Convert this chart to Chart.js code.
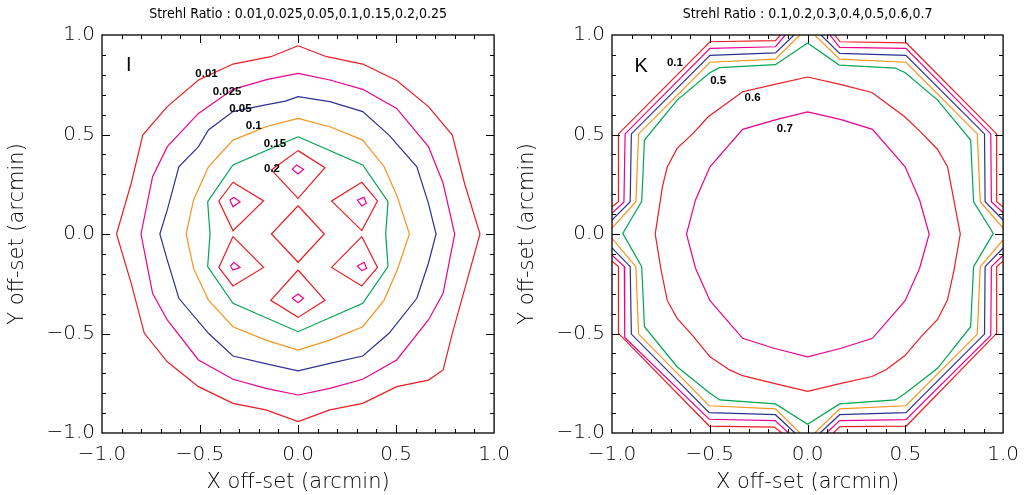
<!DOCTYPE html>
<html><head><meta charset="utf-8">
<script src="https://cdn.jsdelivr.net/npm/chart.js@4.4.1/dist/chart.umd.min.js"></script>
<style>
html,body{margin:0;padding:0;background:#fff;width:1029px;height:495px;overflow:hidden}
canvas{position:absolute;top:0}
#cl{left:0} #cr{left:510px}
</style></head><body>
<canvas id="cl" width="520" height="495"></canvas>
<canvas id="cr" width="519" height="495"></canvas>
<script>
// ---------- shared ----------
const tickValues = [-1, -0.5, 0, 0.5, 1];
const RED = '#ed1c24', MAGENTA = '#ec008c', BLUE = '#2e3192', ORANGE = '#f7941d', GREEN = '#00a651';

// ---------- Panel I (Strehl ratio contours) ----------
const I_title = 'Strehl Ratio : 0.01,0.025,0.05,0.1,0.15,0.2,0.25';
const I_band = 'I';
const I_c001 = [[0,0.946],[0.146,0.891],[0.330,0.854],[0.503,0.771],[0.665,0.640],[0.787,0.497],[0.849,0.255],[0.928,0],[0.858,-0.248],[0.787,-0.499],[0.740,-0.683],[0.665,-0.734],[0.503,-0.767],[0.330,-0.851],[0.162,-0.884],[0,-0.943],[-0.164,-0.884],[-0.332,-0.851],[-0.508,-0.767],[-0.667,-0.642],[-0.784,-0.499],[-0.851,-0.248],[-0.926,0],[-0.851,0.255],[-0.792,0.497],[-0.667,0.640],[-0.508,0.774],[-0.332,0.854],[-0.139,0.891],[0,0.946]];
const I_c0025 = [[0,0.807],[0.162,0.774],[0.330,0.727],[0.503,0.631],[0.665,0.439],[0.740,0.255],[0.799,0],[0.740,-0.298],[0.665,-0.432],[0.503,-0.633],[0.330,-0.730],[0.162,-0.776],[0,-0.809],[-0.164,-0.776],[-0.332,-0.730],[-0.508,-0.633],[-0.667,-0.432],[-0.742,-0.298],[-0.801,0],[-0.742,0.288],[-0.667,0.439],[-0.508,0.606],[-0.332,0.727],[-0.156,0.777],[0,0.807]];
const I_c005 = [[0,0.690],[0.162,0.665],[0.330,0.615],[0.464,0.497],[0.606,0.338],[0.665,0.154],[0.704,0],[0.665,-0.147],[0.606,-0.323],[0.464,-0.499],[0.330,-0.613],[0.162,-0.650],[0,-0.688],[-0.172,-0.650],[-0.332,-0.613],[-0.457,-0.499],[-0.608,-0.323],[-0.667,-0.131],[-0.705,0],[-0.667,0.121],[-0.608,0.338],[-0.508,0.439],[-0.457,0.523],[-0.332,0.615],[-0.172,0.648],[-0.064,0.668],[0,0.690]];
const I_c01 = [[0,0.581],[0.162,0.539],[0.330,0.472],[0.439,0.338],[0.506,0.188],[0.568,0],[0.506,-0.181],[0.439,-0.332],[0.330,-0.466],[0.162,-0.533],[0,-0.583],[-0.164,-0.533],[-0.332,-0.466],[-0.457,-0.332],[-0.533,-0.173],[-0.571,0],[-0.533,0.171],[-0.457,0.338],[-0.332,0.472],[-0.164,0.539],[0,0.581]];
const I_c015 = [[0,0.489],[0.330,0.347],[0.459,0.162],[0.447,0],[0.459,-0.164],[0.330,-0.348],[0,-0.491],[-0.332,-0.348],[-0.461,-0.164],[-0.449,0],[-0.461,0.162],[-0.332,0.347],[0,0.489]];
const I_c02_top = [[0,0.419],[0.137,0.333],[0,0.179],[-0.136,0.322],[0,0.419]];
const I_c02_mid = [[0,0.142],[0.134,0],[0,-0.142],[-0.136,0],[0,0.142]];
const I_c02_bot = [[0,-0.181],[0.137,-0.333],[0,-0.419],[-0.139,-0.333],[0,-0.181]];
const I_c02_ul = [[-0.332,0.260],[-0.176,0.166],[-0.332,0.017],[-0.404,0.166],[-0.332,0.260]];
const I_c02_ur = [[0.325,0.260],[0.405,0.166],[0.325,0.017],[0.171,0.166],[0.325,0.260]];
const I_c02_ll = [[-0.332,-0.013],[-0.176,-0.168],[-0.332,-0.261],[-0.404,-0.168],[-0.332,-0.013]];
const I_c02_lr = [[0.325,-0.013],[0.405,-0.168],[0.325,-0.261],[0.171,-0.168],[0.325,-0.013]];
const I_c025_top = [[-0.030,0.325],[-0.008,0.347],[0.028,0.325],[0,0.302],[-0.030,0.325]];
const I_c025_ul = [[-0.348,0.171],[-0.328,0.184],[-0.296,0.162],[-0.332,0.137],[-0.348,0.171]];
const I_c025_ur = [[0.302,0.171],[0.337,0.184],[0.348,0.154],[0.325,0.141],[0.302,0.171]];
const I_c025_ll = [[-0.345,-0.161],[-0.327,-0.142],[-0.296,-0.168],[-0.332,-0.181],[-0.345,-0.161]];
const I_c025_lr = [[0.302,-0.161],[0.337,-0.142],[0.350,-0.173],[0.325,-0.184],[0.302,-0.161]];
const I_c025_bot = [[-0.030,-0.323],[0,-0.302],[0.028,-0.323],[0,-0.345],[-0.030,-0.323]];
const I_labels = ['0.01','0.025','0.05','0.1','0.15','0.2'];
const I_labelAt = [[-0.467,0.804],[-0.362,0.714],[-0.294,0.628],[-0.226,0.543],[-0.118,0.452],[-0.133,0.327]];

// ---------- Panel K ----------
const K_title = 'Strehl Ratio : 0.1,0.2,0.3,0.4,0.5,0.6,0.7';
const K_band = 'K';
const K_c01_tl = [[-0.139,1.0],[-0.164,0.972],[-0.499,0.966],[-0.967,0.503],[-0.967,0.162],[-1.0,0.137]];
const K_c01_tr = [[0.139,1.0],[0.166,0.966],[0.505,0.960],[0.967,0.503],[0.967,0.162],[1.0,0.137]];
const K_c01_br = [[1.0,-0.137],[0.967,-0.164],[0.967,-0.499],[0.505,-0.965],[0.166,-0.968],[0.131,-1.0]];
const K_c01_bl = [[-1.0,-0.137],[-0.967,-0.164],[-0.967,-0.499],[-0.503,-0.965],[-0.170,-0.970],[-0.131,-1.0]];
const K_c02_tl = [[-0.114,1.0],[-0.164,0.941],[-0.499,0.933],[-0.933,0.503],[-0.939,0.160],[-1.0,0.105]];
const K_c02_tr = [[0.114,1.0],[0.164,0.938],[0.503,0.933],[0.937,0.503],[0.940,0.162],[1.0,0.107]];
const K_c02_br = [[1.0,-0.107],[0.940,-0.164],[0.937,-0.510],[0.503,-0.933],[0.164,-0.938],[0.097,-1.0]];
const K_c02_bl = [[-1.0,-0.107],[-0.937,-0.164],[-0.935,-0.520],[-0.503,-0.931],[-0.166,-0.938],[-0.097,-1.0]];
const K_c03_tl = [[-0.069,1.0],[-0.164,0.910],[-0.499,0.898],[-0.901,0.503],[-0.907,0.162],[-1.0,0.070]];
const K_c03_tr = [[0.069,1.0],[0.164,0.908],[0.503,0.898],[0.905,0.503],[0.908,0.162],[1.0,0.070]];
const K_c03_br = [[1.0,-0.070],[0.908,-0.164],[0.905,-0.503],[0.503,-0.898],[0.164,-0.908],[0.064,-1.0]];
const K_c03_bl = [[-1.0,-0.070],[-0.907,-0.164],[-0.901,-0.503],[-0.503,-0.898],[-0.164,-0.908],[-0.064,-1.0]];
const K_c04_tl = [[-0.039,1.0],[-0.164,0.879],[-0.499,0.863],[-0.864,0.503],[-0.878,0.162],[-1.0,0.030]];
const K_c04_tr = [[0.037,1.0],[0.164,0.879],[0.503,0.863],[0.868,0.503],[0.883,0.162],[1.0,0.030]];
const K_c04_br = [[1.0,-0.030],[0.883,-0.164],[0.868,-0.503],[0.503,-0.863],[0.164,-0.879],[0.037,-1.0]];
const K_c04_bl = [[-1.0,-0.022],[-0.878,-0.164],[-0.864,-0.503],[-0.503,-0.863],[-0.164,-0.879],[-0.039,-1.0]];
const K_c05 = [[0,0.960],[0.162,0.849],[0.449,0.834],[0.500,0.810],[0.665,0.673],[0.834,0.472],[0.849,0.162],[0.950,0.003],[0.849,-0.164],[0.834,-0.466],[0.665,-0.675],[0.500,-0.800],[0.449,-0.834],[0.164,-0.854],[0,-0.956],[-0.164,-0.854],[-0.449,-0.834],[-0.499,-0.800],[-0.667,-0.667],[-0.834,-0.466],[-0.848,-0.164],[-0.945,0.003],[-0.848,0.164],[-0.834,0.472],[-0.667,0.673],[-0.500,0.810],[-0.450,0.836],[-0.164,0.851],[0,0.960]];
const K_c06 = [[0,0.789],[0.167,0.752],[0.329,0.711],[0.497,0.589],[0.583,0.508],[0.664,0.426],[0.716,0.338],[0.745,0.187],[0.781,0],[0.749,-0.181],[0.716,-0.331],[0.664,-0.431],[0.583,-0.513],[0.497,-0.612],[0.399,-0.683],[0.329,-0.716],[0.172,-0.751],[0,-0.791],[-0.172,-0.751],[-0.332,-0.712],[-0.399,-0.683],[-0.499,-0.617],[-0.583,-0.516],[-0.667,-0.424],[-0.717,-0.335],[-0.749,-0.181],[-0.779,0],[-0.742,0.238],[-0.717,0.338],[-0.667,0.430],[-0.583,0.508],[-0.508,0.589],[-0.332,0.715],[-0.167,0.752],[0,0.789]];
const K_c07 = [[0,0.614],[0.167,0.576],[0.332,0.526],[0.499,0.338],[0.573,0.171],[0.622,0],[0.573,-0.172],[0.499,-0.335],[0.332,-0.524],[0.172,-0.574],[0,-0.617],[-0.172,-0.574],[-0.332,-0.524],[-0.499,-0.335],[-0.573,-0.172],[-0.619,0],[-0.573,0.171],[-0.499,0.338],[-0.332,0.526],[-0.156,0.576],[0,0.614]];
const K_labels = ['0.1','0.5','0.6','0.7'];
const K_labelAt = [[-0.678,0.859],[-0.457,0.769],[-0.281,0.683],[-0.116,0.528]];

// ---------- helpers ----------
function ds(pts, color){
  return {data: pts.map(p => ({x: p[0], y: p[1]})), borderColor: color, backgroundColor: color,
    borderWidth: 1.2, showLine: true, pointRadius: 0, pointHoverRadius: 0, fill: false, tension: 0};
}
const fmt = v => (v < 0 ? '\u2212' : '') + Math.abs(v).toFixed(1);
const TICK_FONT = {family: "'DejaVu Sans', sans-serif", size: 20, weight: '300'};
const AXT_FONT = {family: "'DejaVu Sans', sans-serif", size: 21, weight: '300'};

const frameTicks = {
  id: 'frameTicks',
  afterDatasetsDraw(chart){
    const {ctx, chartArea: a, scales: {x, y}} = chart;
    ctx.save();
    ctx.strokeStyle = '#000';
    ctx.lineWidth = 1.3;
    ctx.strokeRect(a.left, a.top, a.right - a.left, a.bottom - a.top);
    ctx.lineWidth = 1;
    ctx.beginPath();
    for (let i = -9; i <= 9; i++){
      const v = i / 10, L = (i % 5 === 0) ? 8 : 4;
      const px = Math.round(x.getPixelForValue(v)) + 0.5;
      const py = Math.round(y.getPixelForValue(v)) + 0.5;
      ctx.moveTo(px, a.bottom); ctx.lineTo(px, a.bottom - L);
      ctx.moveTo(px, a.top); ctx.lineTo(px, a.top + L);
      ctx.moveTo(a.left, py); ctx.lineTo(a.left + L, py);
      ctx.moveTo(a.right, py); ctx.lineTo(a.right - L, py);
    }
    ctx.stroke();
    ctx.restore();
  }
};

const notes = {
  id: 'notes',
  afterDatasetsDraw(chart, args, opts){
    const {ctx, scales: {x, y}} = chart;
    ctx.save();
    ctx.fillStyle = '#000';
    ctx.textAlign = 'center';
    ctx.textBaseline = 'middle';
    ctx.font = "20px 'Liberation Sans', Arial, sans-serif";
    ctx.fillText(opts.band, x.getPixelForValue(opts.bandAt[0]), y.getPixelForValue(opts.bandAt[1]));
    ctx.font = "bold 11.5px 'Liberation Sans', Arial, sans-serif";
    opts.labels.forEach((t, i) => {
      ctx.fillText(t, x.getPixelForValue(opts.at[i][0]), y.getPixelForValue(opts.at[i][1]));
    });
    ctx.restore();
  }
};

function makeChart(id, title, datasets, band, bandAt, labels, at, padRight){
  return new Chart(document.getElementById(id), {
    type: 'scatter',
    data: {datasets},
    plugins: [frameTicks, notes],
    options: {
      responsive: false, animation: false, events: [],
      layout: {padding: {left: 0, right: padRight, top: 0, bottom: 0}},
      plugins: {
        legend: {display: false}, tooltip: {enabled: false},
        title: {display: true, text: title, color: '#000', fullSize: false,
          font: {family: "'DejaVu Sans Condensed','Liberation Sans Narrow',sans-serif", size: 14, weight: 'normal'},
          padding: {top: 5.6, bottom: 12.6}},
        notes: {band, bandAt, labels, at}
      },
      scales: {
        x: {type: 'linear', position: 'bottom', min: -1, max: 1,
          afterFit(s){ s.height = 62; },
          afterBuildTicks(s){ s.ticks = tickValues.map(v => ({value: v})); },
          grid: {display: false, drawTicks: false}, border: {display: false},
          ticks: {color: '#000', font: TICK_FONT, padding: 10, maxRotation: 0, autoSkip: false, callback: fmt},
          title: {display: true, text: 'X off-set (arcmin)', color: '#000', font: AXT_FONT, padding: {top: 0, bottom: 0}}},
        y: {type: 'linear', position: 'left', min: -1, max: 1,
          afterFit(s){ s.width = 102; },
          afterBuildTicks(s){ s.ticks = tickValues.map(v => ({value: v})); },
          grid: {display: false, drawTicks: false}, border: {display: false},
          ticks: {color: '#000', font: TICK_FONT, padding: 7, autoSkip: false, callback: fmt},
          title: {display: true, text: 'Y off-set (arcmin)', color: '#000', font: AXT_FONT, padding: {top: 5.4, bottom: 0}}}
      }
    }
  });
}

const I_sets = [
  ds(I_c001, RED), ds(I_c0025, MAGENTA), ds(I_c005, BLUE), ds(I_c01, ORANGE), ds(I_c015, GREEN),
  ds(I_c02_top, RED), ds(I_c02_mid, RED), ds(I_c02_bot, RED), ds(I_c02_ul, RED), ds(I_c02_ur, RED), ds(I_c02_ll, RED), ds(I_c02_lr, RED),
  ds(I_c025_top, MAGENTA), ds(I_c025_ul, MAGENTA), ds(I_c025_ur, MAGENTA), ds(I_c025_ll, MAGENTA), ds(I_c025_lr, MAGENTA), ds(I_c025_bot, MAGENTA)
];
const K_sets = [
  ds(K_c01_tl, RED), ds(K_c01_tr, RED), ds(K_c01_br, RED), ds(K_c01_bl, RED),
  ds(K_c02_tl, MAGENTA), ds(K_c02_tr, MAGENTA), ds(K_c02_br, MAGENTA), ds(K_c02_bl, MAGENTA),
  ds(K_c03_tl, BLUE), ds(K_c03_tr, BLUE), ds(K_c03_br, BLUE), ds(K_c03_bl, BLUE),
  ds(K_c04_tl, ORANGE), ds(K_c04_tr, ORANGE), ds(K_c04_br, ORANGE), ds(K_c04_bl, ORANGE),
  ds(K_c05, GREEN), ds(K_c06, RED), ds(K_c07, MAGENTA)
];

makeChart('cl', I_title, I_sets, I_band, [-0.864, 0.849], I_labels, I_labelAt, 20);
makeChart('cr', K_title, K_sets, K_band, [-0.851, 0.844], K_labels, K_labelAt, 19);
</script>
</body></html>
